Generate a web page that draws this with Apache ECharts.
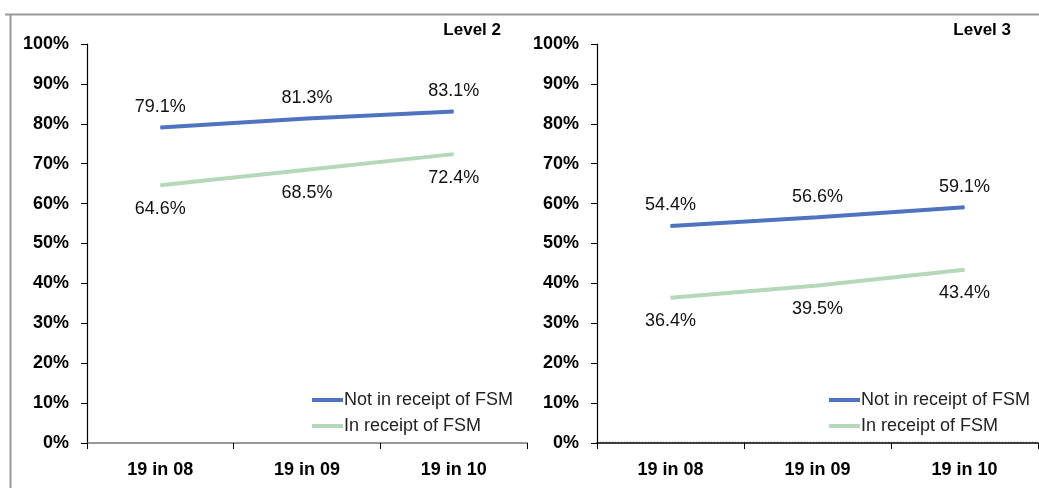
<!DOCTYPE html>
<html>
<head>
<meta charset="utf-8">
<script src="https://cdn.jsdelivr.net/npm/echarts@6/dist/echarts.min.js"></script>
<style>
html,body{margin:0;padding:0;background:#fff;}
#c{width:1039px;height:488px;}
</style>
</head>
<body>
<div id="c"></div>
<script>
var categories = ['19 in 08', '19 in 09', '19 in 10'];
var level2NotFSM = [79.1, 81.3, 83.1];
var level2FSM = [64.6, 68.5, 72.4];
var level3NotFSM = [54.4, 56.6, 59.1];
var level3FSM = [36.4, 39.5, 43.4];
var seriesNames = ['Not in receipt of FSM', 'In receipt of FSM'];
var panelTitles = ['Level 2', 'Level 3'];

var BLUE = '#4f73c0';
var GREEN = '#b5d8bb';
var FONT = 'Liberation Sans, Arial, sans-serif';

function xAxis(idx, lineColor) {
  return {
    type: 'category', gridIndex: idx, data: categories, boundaryGap: true,
    axisLine: { lineStyle: { color: lineColor, width: 1.5 } },
    axisTick: { show: true, length: 6, lineStyle: { color: '#000' } },
    axisLabel: { color: '#000', fontFamily: FONT, fontWeight: 'bold', fontSize: 18, margin: 18 },
    splitLine: { show: false }
  };
}
function yAxis(idx) {
  return {
    type: 'value', gridIndex: idx, min: 0, max: 100, interval: 10,
    axisLine: { show: true, lineStyle: { color: '#000', width: 1.2 } },
    axisTick: { show: true, length: 6, lineStyle: { color: '#000' } },
    axisLabel: { formatter: '{value}%', color: '#000', fontFamily: FONT, fontWeight: 'bold', fontSize: 18, margin: 18 },
    splitLine: { show: false }
  };
}
function line(name, idx, data, color, pos, dist) {
  return {
    name: name, type: 'line', xAxisIndex: idx, yAxisIndex: idx, data: data,
    symbol: 'circle', symbolSize: 1, showSymbol: true, smooth: false,
    lineStyle: { color: color, width: 4 },
    itemStyle: { color: color },
    label: { show: true, position: pos, distance: dist, formatter: function (p) { return p.value.toFixed(1) + '%'; },
      color: '#111', fontFamily: FONT, fontSize: 18 },
    labelLayout: { hideOverlap: false },
    emphasis: { disabled: true },
    z: 3
  };
}
function legend(left) {
  return {
    data: seriesNames, orient: 'vertical', left: left, top: 386,
    itemWidth: 31, itemHeight: 4, itemGap: 8,
    icon: 'rect',
    textStyle: { color: '#222', fontFamily: FONT, fontSize: 18, padding: [0, 0, 0, -4] }
  };
}

var chart = echarts.init(document.getElementById('c'), null, { renderer: 'canvas' });
chart.setOption({
  animation: false,
  backgroundColor: '#fff',
  grid: [
    { left: 87, right: 512, top: 44, bottom: 45 },
    { left: 597, right: 1, top: 44, bottom: 45 }
  ],
  xAxis: [xAxis(0, '#777'), xAxis(1, '#000')],
  yAxis: [yAxis(0), yAxis(1)],
  legend: [legend(307), legend(824)],
  series: [
    line(seriesNames[0], 0, level2NotFSM, BLUE, 'top', 11),
    line(seriesNames[1], 0, level2FSM, GREEN, 'bottom', 14),
    line(seriesNames[0], 1, level3NotFSM, BLUE, 'top', 11),
    line(seriesNames[1], 1, level3FSM, GREEN, 'bottom', 14)
  ],
  graphic: [
    { type: 'line', shape: { x1: 5, y1: 14.5, x2: 1039, y2: 14.5 }, style: { stroke: '#999', lineWidth: 2 } },
    { type: 'line', shape: { x1: 10.5, y1: 14, x2: 10.5, y2: 488 }, style: { stroke: '#999', lineWidth: 2 } },
    { type: 'line', shape: { x1: 597, y1: 442, x2: 1038, y2: 442 }, style: { stroke: '#aaa', lineWidth: 1, lineDash: [1, 2] } },
    { type: 'text', right: 1039 - 501, top: 22, style: { text: panelTitles[0], fill: '#000', font: 'bold 17px ' + FONT, textAlign: 'right' } },
    { type: 'text', right: 1039 - 1011, top: 22, style: { text: panelTitles[1], fill: '#000', font: 'bold 17px ' + FONT, textAlign: 'right' } }
  ]
});
</script>
</body>
</html>
